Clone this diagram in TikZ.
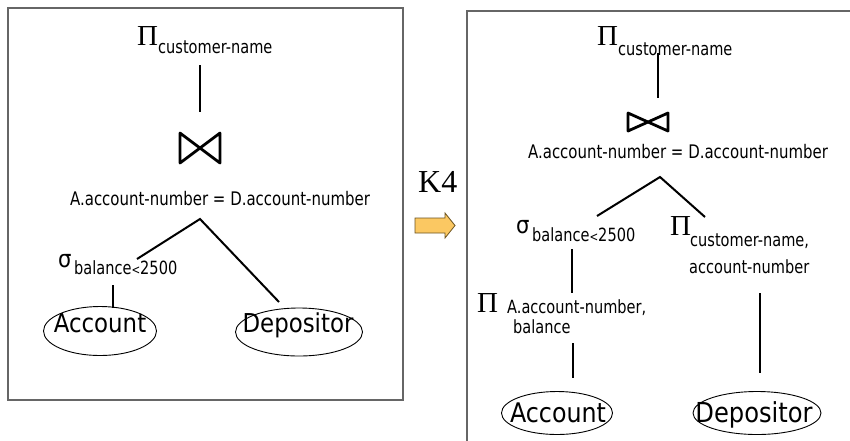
\documentclass[tikz,border=0pt]{standalone}
\usepackage{fontspec}
\usetikzlibrary{shapes.geometric}
\newfontfamily\labfont{DejaVu Sans}[FakeStretch=0.8]
\newfontfamily\relfont{DejaVu Sans}[FakeStretch=0.88]
\newfontfamily\symfont{Liberation Serif}
\definecolor{framegray}{HTML}{666666}
\definecolor{arrowfill}{HTML}{FBC862}
\definecolor{arrowline}{HTML}{6B5320}
\tikzset{
  frame/.style={draw=framegray, line width=1.6pt},
  edge/.style={line width=2pt},
  pisym/.style={inner sep=0pt, anchor=base west, font={\symfont\fontsize{29}{30}\selectfont}},
  sigsym/.style={inner sep=0pt, anchor=base west, font={\relfont\fontsize{24}{24}\selectfont}},
  sub/.style={inner sep=0pt, anchor=base west, font={\labfont\fontsize{18.2}{19}\selectfont}},
  cond/.style={inner sep=0pt, anchor=base, font={\labfont\fontsize{18.7}{19}\selectfont}},
  rel/.style={draw, ellipse, line width=0.9pt, inner sep=0pt},
  reltext/.style={inner sep=0pt, anchor=base, font={\relfont\fontsize{26}{28}\selectfont}},
  bowtie/.pic={\draw[line width=2.8pt, line join=round] (-20,-15) -- (-20,15) -- (20,-15) -- (20,15) -- cycle;}
}
\newcommand{\lessthan}{{\fontsize{13}{13}\selectfont<}}
\begin{document}
\begin{tikzpicture}[x=1pt,y=-1pt]
\useasboundingbox (0,0) rectangle (850,440);

% ---------- original expression tree ----------
\draw[frame] (8,8) rectangle (403,400);
\node[pisym] (piL) at (137,45) {Π};
\node[sub] (piLsub) at (158,53) {customer-name};
\coordinate (piLend) at (200,65);
\coordinate (joinLtop) at (200,112);
\draw[edge] (piLend) -- (joinLtop);
\pic (joinL) at (200,148) {bowtie};
\node[cond] (condL) at (220,205) {A.account-number = D.account-number};
\coordinate (apexL) at (200,219);
\coordinate (selLtop) at (137,259);
\coordinate (depLtop) at (279,302);
\draw[edge] (selLtop) -- (apexL) -- (depLtop);
\node[sigsym] (sigL) at (58,267) {σ};
\node[sub] (sigLsub) at (74,274) {balance\lessthan2500};
\coordinate (selLbot) at (113,285);
\coordinate (accLtop) at (113,308);
\draw[edge] (selLbot) -- (accLtop);
\node[rel, minimum width=113pt, minimum height=49pt] (accL) at (100,331) {};
\node[reltext] (accLtxt) at (100,332) {Account};
\node[rel, minimum width=127pt, minimum height=48pt] (depL) at (299,332) {};
\node[reltext] (depLtxt) at (298,332) {Depositor};

% ---------- transformation arrow ----------
\node[inner sep=0pt, anchor=base west, font={\symfont\fontsize{32}{34}\selectfont}] (rule) at (418,192) {K4};
\draw[fill=arrowfill, draw=arrowline, line width=0.8pt]
  (415,218) -- (445,218) -- (445,213) -- (455,225.5) -- (445,238) -- (445,233) -- (415,233) -- cycle;

% ---------- transformed expression tree ----------
\draw[frame] (467,445) -- (467,11) -- (855,11);
\node[pisym] (piR) at (597,45) {Π};
\node[sub] (piRsub) at (618,55) {customer-name};
\coordinate (piRend) at (658,53);
\coordinate (joinRtop) at (658,98);
\draw[edge] (piRend) -- (joinRtop);
\pic[yscale=0.6] (joinR) at (648,122) {bowtie};
\node[cond] (condR) at (678,158) {A.account-number = D.account-number};
\coordinate (apexR) at (660,177);
\coordinate (selRtop) at (597,216);
\coordinate (projDtop) at (705,217);
\draw[edge] (selRtop) -- (apexR) -- (projDtop);
\node[sigsym] (sigR) at (516,233) {σ};
\node[sub] (sigRsub) at (532,241) {balance\lessthan2500};
\node[pisym] (piD) at (670,235) {Π};
\node[sub] (piDsub1) at (690,246) {customer-name,};
\node[sub] (piDsub2) at (689,273) {account-number};
\coordinate (selRbot) at (572,249);
\coordinate (piAtop) at (572,293);
\draw[edge] (selRbot) -- (piAtop);
\node[pisym] (piA) at (477,312) {Π};
\node[sub] (piAsub1) at (507,313) {A.account-number,};
\node[sub] (piAsub2) at (513,333) {balance};
\coordinate (piAbot) at (573,343);
\coordinate (accRtop) at (573,378);
\draw[edge] (piAbot) -- (accRtop);
\coordinate (piDbot) at (760,293);
\coordinate (depRtop) at (760,373);
\draw[edge] (piDbot) -- (depRtop);
\node[rel, minimum width=111pt, minimum height=43pt] (accR) at (557,413) {};
\node[reltext, font={\relfont\fontsize{27}{28}\selectfont}] (accRtxt) at (558,422) {Account};
\node[rel, minimum width=128pt, minimum height=43pt] (depR) at (757,413) {};
\node[reltext, font={\relfont\fontsize{27.5}{28}\selectfont}] (depRtxt) at (754,422) {Depositor};
\end{tikzpicture}
\end{document}
